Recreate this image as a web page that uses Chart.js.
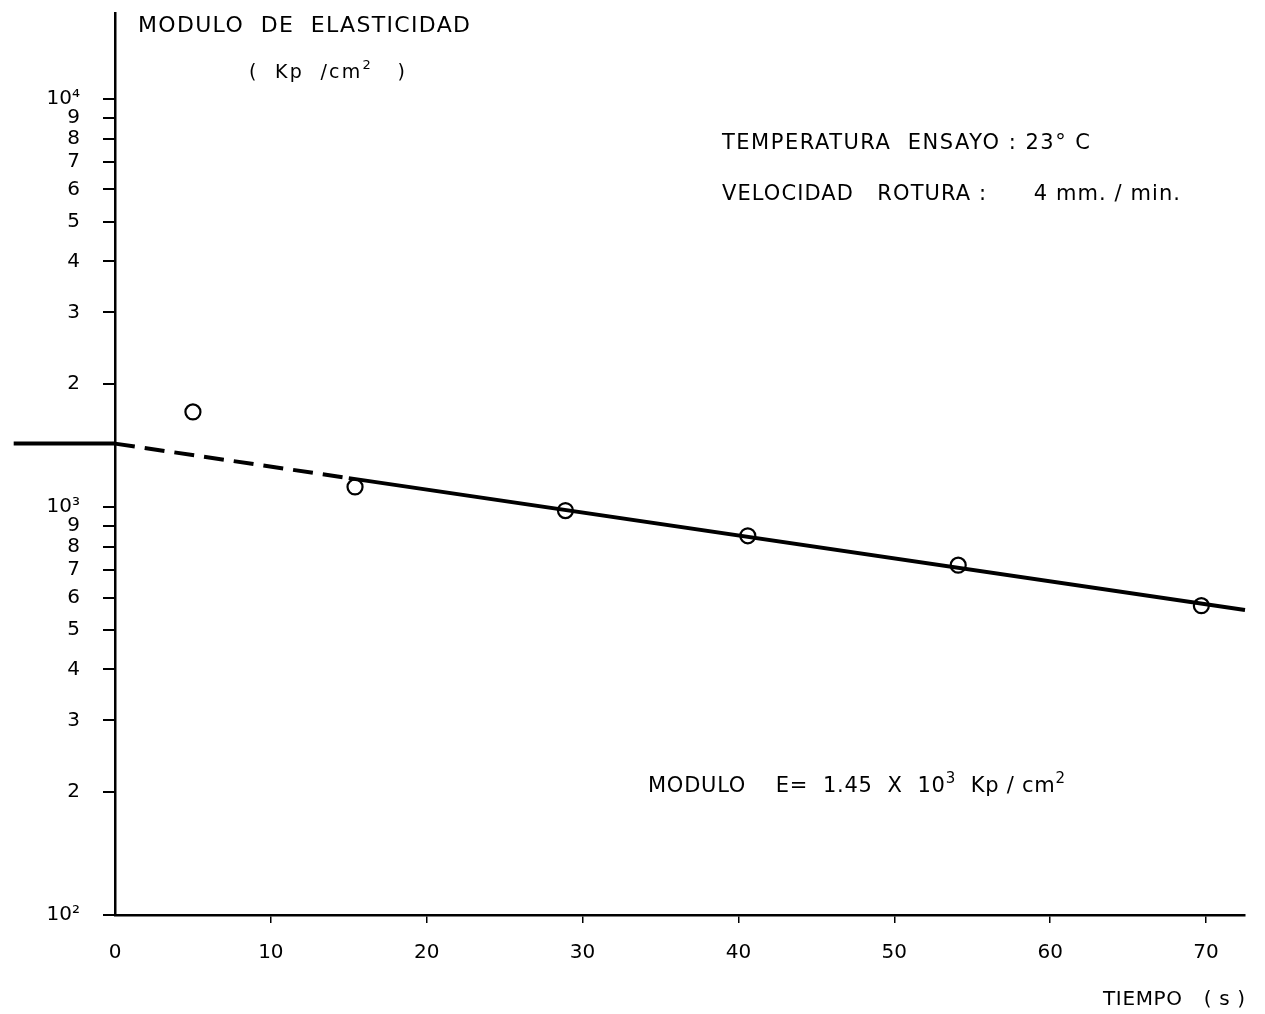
<!DOCTYPE html>
<html>
<head>
<meta charset="utf-8">
<title>Modulo de elasticidad</title>
<script src="https://cdn.jsdelivr.net/npm/chart.js@4.4.0/dist/chart.umd.min.js"></script>
<style>
  body { margin: 0; background: #fff; }
  canvas { display: block; }
</style>
</head>
<body>
<canvas id="moduloChart" width="1265" height="1014"></canvas>
<script>
// tiempo (s) de cada ensayo
const tiempos = [5, 15.4, 28.9, 40.6, 54.1, 69.7];
// modulo de elasticidad medido (Kp/cm2)
const modulos = [1710, 1120, 980, 850, 720, 573];

// recta de ajuste; el tramo entre 0 y 15 va a trazos
const ajusteTiempos = [-6.5, 0, 15, 72.5];
const ajusteModulos = [1430, 1430, 1177, 559];

const xTicks = [0, 10, 20, 30, 40, 50, 60, 70];
const yTicks = [100, 200, 300, 400, 500, 600, 700, 800, 900,
                1000, 2000, 3000, 4000, 5000, 6000, 7000, 8000, 9000, 10000];
const yTickLabels = ['10²', '2', '3', '4', '5', '6', '7', '8', '9',
                     '10³', '2', '3', '4', '5', '6', '7', '8', '9', '10⁴'];

const FONT = '"DejaVu Sans", "Liberation Sans", sans-serif';

// escribe un texto (con partes en superindice) repartiendo las letras
// hasta ocupar el ancho dado
function drawSpaced(ctx, parts, x, y, size, width) {
    let supSize = Math.round(size * 0.7);
    let n = 0;
    let w = 0;
    ctx.letterSpacing = '0px';
    for (let p of parts) {
        ctx.font = (p[1] ? supSize : size) + 'px ' + FONT;
        w += ctx.measureText(p[0]).width;
        n += p[0].length;
    }
    let ls = (width - w) / (n - 1);
    ctx.letterSpacing = ls + 'px';
    let cx = x;
    for (let p of parts) {
        ctx.font = (p[1] ? supSize : size) + 'px ' + FONT;
        let dy = p[1] ? -size * 0.45 : 0;
        ctx.fillText(p[0], cx, y + dy);
        cx += ctx.measureText(p[0]).width;
    }
    ctx.letterSpacing = '0px';
}

const rotulos = {
    id: 'rotulos',
    afterDraw(chart) {
        const ctx = chart.ctx;
        ctx.save();
        ctx.fillStyle = '#000';
        ctx.textAlign = 'left';
        ctx.textBaseline = 'alphabetic';
        drawSpaced(ctx, [['MODULO  DE  ELASTICIDAD']], 138, 32, 22, 332);
        drawSpaced(ctx, [['(  Kp  /cm'], ['2', true], ['   )']], 249, 78, 19, 156);
        drawSpaced(ctx, [['TEMPERATURA  ENSAYO : 23° C']], 722, 149, 21, 368);
        drawSpaced(ctx, [['VELOCIDAD   ROTURA :      4 mm. / min.']], 722, 200, 21, 458);
        drawSpaced(ctx, [['MODULO    E=  1.45  X  10'], ['3', true], ['  Kp / cm'], ['2', true]], 648, 792, 21, 417);
        drawSpaced(ctx, [['TIEMPO   ( s )']], 1103, 1005, 20, 142);
        ctx.restore();
    }
};

function createChart() {
    const puntos = tiempos.map((t, i) => ({x: t, y: modulos[i]}));
    const ajuste = ajusteTiempos.map((t, i) => ({x: t, y: ajusteModulos[i]}));

    new Chart(document.getElementById('moduloChart'), {
        type: 'scatter',
        data: {
            datasets: [{
                label: 'ajuste',
                data: ajuste,
                showLine: true,
                borderColor: '#000',
                borderWidth: 4,
                pointRadius: 0,
                clip: false,
                segment: {
                    borderDash: ctx => ctx.p0DataIndex === 1 ? [20, 10] : []
                }
            }, {
                label: 'ensayos',
                data: puntos,
                showLine: false,
                pointStyle: 'circle',
                pointRadius: 7.5,
                pointBorderWidth: 2.2,
                pointBorderColor: '#000',
                pointBackgroundColor: 'rgba(0,0,0,0)'
            }]
        },
        options: {
            responsive: false,
            animation: false,
            layout: { padding: { top: 13, right: 20, left: 0, bottom: 0 } },
            plugins: {
                legend: { display: false },
                tooltip: { enabled: false }
            },
            scales: {
                x: {
                    type: 'linear',
                    min: 0,
                    max: 72.5,
                    afterBuildTicks: s => { s.ticks = xTicks.map(v => ({value: v})); },
                    afterFit: s => {
                        s.height = 99;
                        s.paddingLeft = 0;
                        s.paddingRight = 0;
                    },
                    border: { display: true, color: '#000', width: 2.5 },
                    grid: {
                        drawOnChartArea: false,
                        tickLength: 8,
                        lineWidth: 1.5,
                        color: c => c.index === 0 ? 'rgba(0,0,0,0)' : '#000'
                    },
                    ticks: {
                        autoSkip: false,
                        maxRotation: 0,
                        padding: 18,
                        color: '#000',
                        font: { family: FONT, size: 20 }
                    }
                },
                y: {
                    type: 'logarithmic',
                    min: 100,
                    max: 16245,
                    afterBuildTicks: s => { s.ticks = yTicks.map(v => ({value: v})); },
                    afterFit: s => {
                        s.width = 115;
                        s.paddingTop = 0;
                        s.paddingBottom = 0;
                    },
                    border: { display: true, color: '#000', width: 2.5 },
                    grid: {
                        drawOnChartArea: false,
                        tickLength: 12,
                        lineWidth: 2,
                        color: '#000'
                    },
                    ticks: {
                        autoSkip: false,
                        padding: 23,
                        color: '#000',
                        font: { family: FONT, size: 20 },
                        callback: (value, index) => yTickLabels[index]
                    }
                }
            }
        },
        plugins: [rotulos]
    });
}

createChart();
</script>
</body>
</html>
